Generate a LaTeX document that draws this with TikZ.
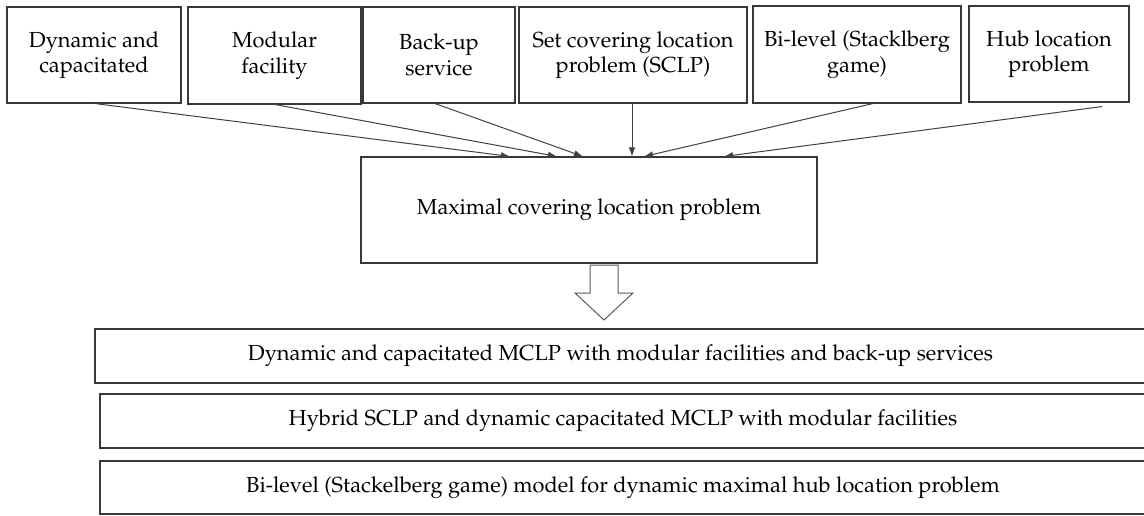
\documentclass[tikz,border=0pt]{standalone}
\usepackage[T1]{fontenc}
\usepackage{mathpazo}
\usetikzlibrary{arrows.meta}

\tikzset{
  box/.style={draw=black!78, line width=1.1pt, rectangle, align=center, inner sep=0pt,
    font=\fontsize{21.8}{25.5}\selectfont},
  link/.style={draw=black!75, line width=1pt, -{Latex[length=9pt,width=6.5pt]}},
  hollow/.style={draw=black!65, line width=1pt, fill=white}
}

\begin{document}
\begin{tikzpicture}[x=1pt, y=-1pt]
  \useasboundingbox (0,0) rectangle (1144,516);
  \clip (0,0) rectangle (1144,516);

  % source problems
  \node[box, minimum width=174pt, minimum height=96pt] (b1) at (94,55)
    {Dynamic and\\capacitated};
  \node[box, minimum width=173pt, minimum height=97pt] (b2) at (274.5,55.5)
    {Modular\\facility};
  \node[box, minimum width=152pt, minimum height=96pt] (b3) at (439,55)
    {Back-up\\service};
  \node[box, minimum width=228pt, minimum height=96pt] (b4) at (633,55)
    {Set covering location\\problem (SCLP)};
  \node[box, minimum width=208pt, minimum height=97pt] (b5) at (857,54.5)
    {Bi-level (Stacklberg\\game)};
  \node[box, minimum width=160pt, minimum height=96pt] (b6) at (1049,54)
    {Hub location\\problem};

  % central problem
  \node[box, minimum width=456pt, minimum height=106pt] (m) at (589,210)
    {Maximal covering location problem};

  % resulting models
  \node[box, minimum width=1051pt, minimum height=54pt] (r1) at (620.5,356)
    {Dynamic and capacitated MCLP with modular facilities and back-up services};
  \node[box, minimum width=1046pt, minimum height=54pt] (r2) at (623,421)
    {Hybrid SCLP and dynamic capacitated MCLP with modular facilities};
  \node[box, minimum width=1046pt, minimum height=53pt] (r3) at (623,487.5)
    {Bi-level (Stackelberg game) model for dynamic maximal hub location problem};

  % links into the central problem
  \draw[link] ([xshift=1pt]b1.south) -- ([xshift=-79pt]m.north);
  \draw[link] ([xshift=0.5pt]b2.south) -- ([xshift=-32pt]m.north);
  \draw[link] ([xshift=-4pt]b3.south) -- ([xshift=-6pt]m.north);
  \draw[link] ([xshift=-1pt]b4.south) -- ([xshift=43pt]m.north);
  \draw[link] ([xshift=16pt]b5.south) -- ([xshift=55pt]m.north);
  \draw[link] ([xshift=53pt,yshift=-4pt]b6.south) -- ([xshift=135pt]m.north);

  % block arrow towards the models
  \draw[hollow] (590,265) -- (618,265) -- (618,293) -- (633,293) -- (604,320)
    -- (575,293) -- (590,293) -- cycle;
\end{tikzpicture}
\end{document}
